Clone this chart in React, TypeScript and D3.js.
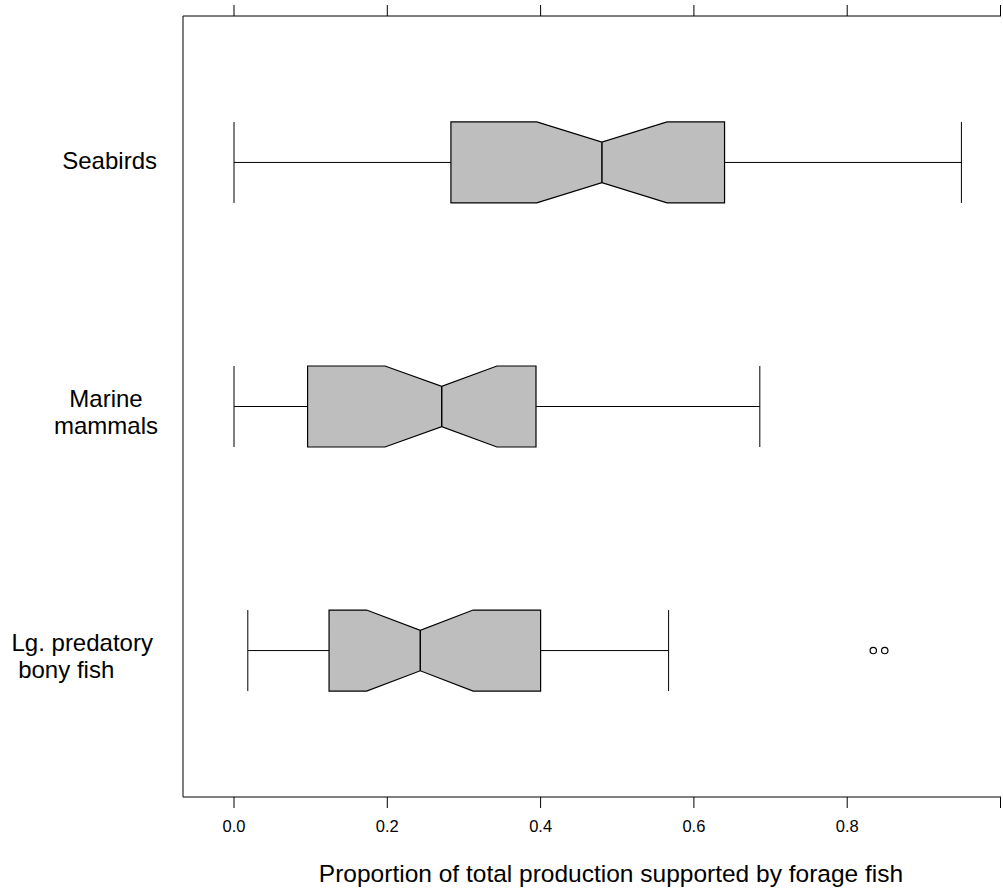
import React from "react";
import * as d3 from "d3";

const categories = ["Seabirds", "Marine mammals", "Lg. predatory bony fish"];
const labelLines = [["Seabirds"], ["Marine", "mammals"], ["Lg. predatory", " bony fish"]];
const labelAnchor = ["end", "middle", "start"];
const whiskerLow = [0.0, 0.0, 0.018];
const q1 = [0.283, 0.096, 0.124];
const notchLow = [0.395, 0.197, 0.173];
const median = [0.48, 0.271, 0.243];
const notchHigh = [0.565, 0.343, 0.312];
const q3 = [0.64, 0.394, 0.4];
const whiskerHigh = [0.949, 0.686, 0.567];
const outliers = [[], [], [0.834, 0.849]];
const xTicks = [0.0, 0.2, 0.4, 0.6, 0.8, 1.0];
const xTickLabels = ["0.0", "0.2", "0.4", "0.6", "0.8", ""];
const xTitle = "Proportion of total production supported by forage fish";

export default function App() {
  const W = 1003, H = 890;
  const left = 183, top = 16, bottom = 797;
  const x = d3.scaleLinear().domain([0, 1]).range([234, 1000.5]);
  const y = d3.scaleLinear().domain([0.4, 3.6]).range([top, bottom]);
  const hw = 40.5;
  const font = "Liberation Sans, Arial, sans-serif";
  const labelX = (a: string) => (a === "end" ? 157 : a === "middle" ? 106 : 11.5);
  return (
    <svg width={W} height={H} style={{ position: "absolute", left: 0, top: 0 }}>
      <rect width={W} height={H} fill="white" />
      <line x1={left} x2={1001} y1={top} y2={top} stroke="black" strokeWidth={1} />
      <line x1={left} x2={left} y1={top} y2={bottom} stroke="black" strokeWidth={1} />
      <line x1={left} x2={1001} y1={bottom} y2={bottom} stroke="black" strokeWidth={1} />
      {xTicks.map((t, i) => (
        <g key={i}>
          <line x1={x(t)} x2={x(t)} y1={top} y2={top - 11} stroke="black" />
          <line x1={x(t)} x2={x(t)} y1={bottom} y2={bottom + 11} stroke="black" />
          <text x={x(t)} y={832} textAnchor="middle" fontFamily={font} fontSize={16.5}>
            {xTickLabels[i]}
          </text>
        </g>
      ))}
      <text x={611} y={882} textAnchor="middle" fontFamily={font} fontSize={24.5}>
        {xTitle}
      </text>
      {categories.map((c, i) => {
        const cy = y(i + 1);
        const pts: [number, number][] = [
          [x(q1[i]), cy - hw],
          [x(notchLow[i]), cy - hw],
          [x(median[i]), cy - hw / 2],
          [x(notchHigh[i]), cy - hw],
          [x(q3[i]), cy - hw],
          [x(q3[i]), cy + hw],
          [x(notchHigh[i]), cy + hw],
          [x(median[i]), cy + hw / 2],
          [x(notchLow[i]), cy + hw],
          [x(q1[i]), cy + hw],
        ];
        const lines = labelLines[i];
        const anchor = labelAnchor[i];
        return (
          <g key={c}>
            <line x1={x(whiskerLow[i])} x2={x(q1[i])} y1={cy} y2={cy} stroke="black" />
            <line x1={x(q3[i])} x2={x(whiskerHigh[i])} y1={cy} y2={cy} stroke="black" />
            <line x1={x(whiskerLow[i])} x2={x(whiskerLow[i])} y1={cy - hw} y2={cy + hw} stroke="black" />
            <line x1={x(whiskerHigh[i])} x2={x(whiskerHigh[i])} y1={cy - hw} y2={cy + hw} stroke="black" />
            <polygon points={pts.map((p) => p.join(",")).join(" ")} fill="#bebebe" stroke="black" strokeWidth={1.2} />
            <line x1={x(median[i])} x2={x(median[i])} y1={cy - hw / 2} y2={cy + hw / 2} stroke="black" strokeWidth={1.5} />
            {outliers[i].map((o, j) => (
              <circle key={j} cx={x(o)} cy={cy} r={3.2} fill="none" stroke="black" strokeWidth={1.2} />
            ))}
            {lines.map((l, k) => (
              <text key={k} x={labelX(anchor)}
                y={lines.length === 1 ? cy + 7 : cy + k * 27.5}
                textAnchor={anchor} fontFamily={font} fontSize={24} style={{ whiteSpace: "pre" }}>
                {l}
              </text>
            ))}
          </g>
        );
      })}
    </svg>
  );
}
